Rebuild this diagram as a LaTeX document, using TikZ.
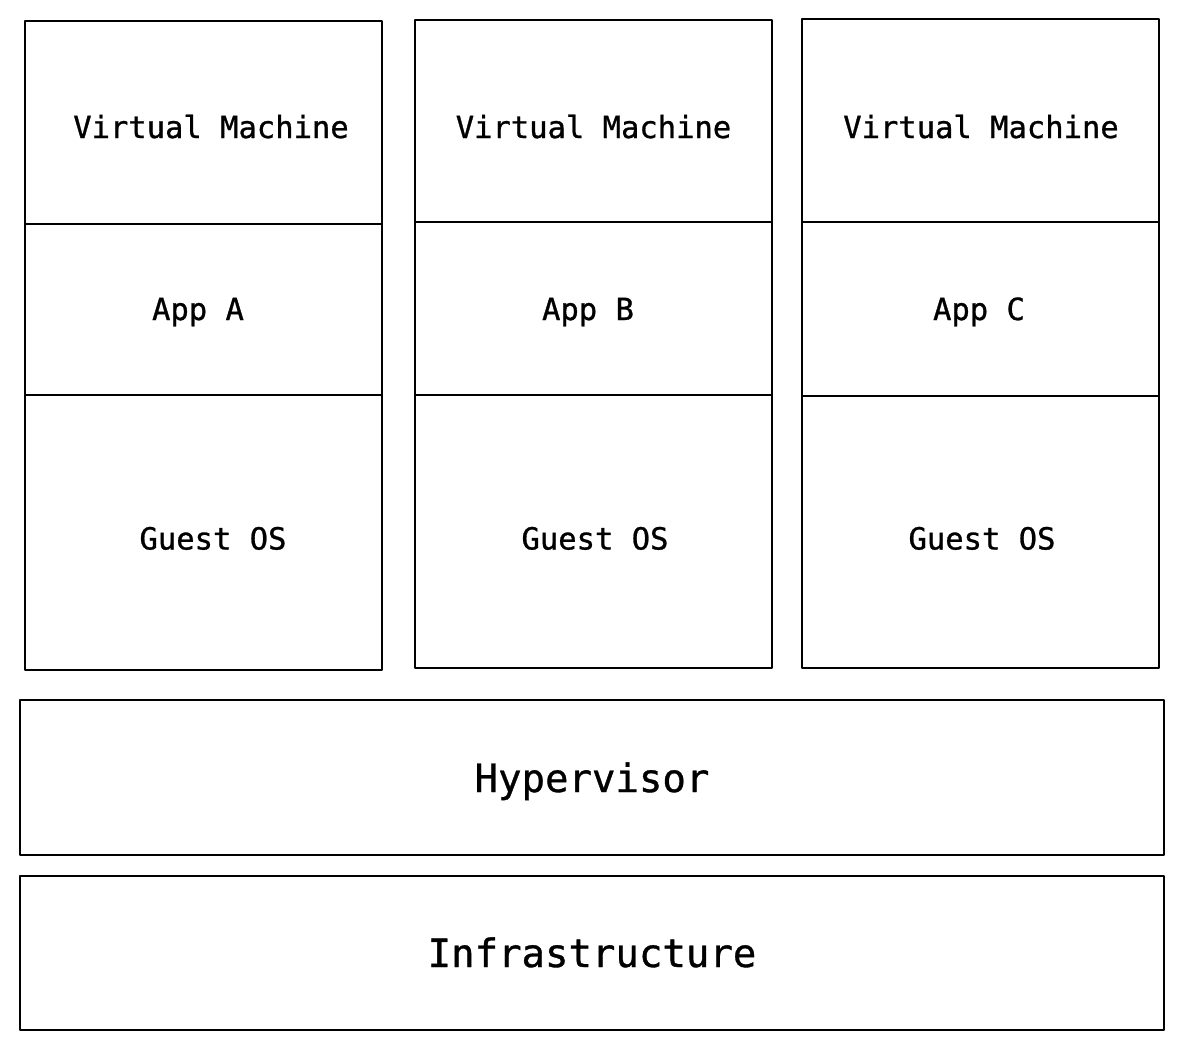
\documentclass[tikz,border=0pt]{standalone}
\usepackage{fontspec}
\newfontfamily\vmfont{DejaVu Sans Mono}[FakeBold=0.9]
\begin{document}
\begin{tikzpicture}[x=1pt,y=-1pt,
  box/.style={draw=black,line width=2.1pt,inner sep=0pt,outer sep=0pt,line join=round},
  smalltxt/.style={font=\vmfont\fontsize{30.5}{36}\selectfont,anchor=base,inner sep=0pt},
  bigtxt/.style={font=\vmfont\fontsize{39}{46}\selectfont,anchor=base,inner sep=0pt}]
\useasboundingbox[fill=white] (0,0) rectangle (1184,1050);
% column A
\node[box,minimum width=357pt,minimum height=203pt] (vmA) at (203.5,122.5) {};
\node[box,minimum width=357pt,minimum height=171pt] (appA) at (203.5,309.5) {};
\node[box,minimum width=357pt,minimum height=275pt] (osA) at (203.5,532.5) {};
% column B
\node[box,minimum width=357pt,minimum height=202pt] (vmB) at (593.5,121) {};
\node[box,minimum width=357pt,minimum height=173pt] (appB) at (593.5,308.5) {};
\node[box,minimum width=357pt,minimum height=273pt] (osB) at (593.5,531.5) {};
% column C
\node[box,minimum width=357pt,minimum height=203pt] (vmC) at (980.5,120.5) {};
\node[box,minimum width=357pt,minimum height=174pt] (appC) at (980.5,309) {};
\node[box,minimum width=357pt,minimum height=272pt] (osC) at (980.5,532) {};
% bottom layers
\node[box,minimum width=1144pt,minimum height=155pt] (hyp) at (592,777.5) {};
\node[box,minimum width=1144pt,minimum height=154pt] (infra) at (592,953) {};
% texts
\node[smalltxt] (tvmA) at (211,138) {Virtual Machine};
\node[smalltxt] (tappA) at (198,320) {App A};
\node[smalltxt] (tosA) at (213,549.5) {Guest OS};
\node[smalltxt] (tvmB) at (593.5,138) {Virtual Machine};
\node[smalltxt] (tappB) at (588,320) {App B};
\node[smalltxt] (tosB) at (595,549.5) {Guest OS};
\node[smalltxt] (tvmC) at (981,138) {Virtual Machine};
\node[smalltxt] (tappC) at (979,320) {App C};
\node[smalltxt] (tosC) at (982,549.5) {Guest OS};
\node[bigtxt] (thyp) at (592,792) {Hypervisor};
\node[bigtxt] (tinfra) at (592,967) {Infrastructure};
\end{tikzpicture}
\end{document}
